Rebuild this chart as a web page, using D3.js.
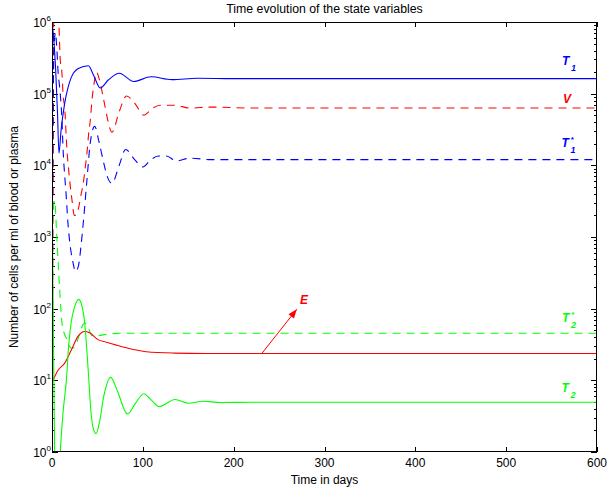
<!DOCTYPE html>
<html><head><meta charset="utf-8">
<script src="https://cdn.jsdelivr.net/npm/d3@7"></script>
<style>
body{margin:0;background:#fff;}
svg{display:block;font-family:"Liberation Sans",Arial,Helvetica,sans-serif;}
</style></head><body>
<svg id="c" width="608" height="491"></svg>
<script>
// ---- data (days, cells per ml) ----
const tT1 = [0, 2, 4, 6, 7.7, 10, 14, 18, 21, 29, 40, 46, 53, 62, 74, 90, 109, 132, 160, 200, 300, 600];
const vT1 = [1e6, 5.6e5, 2.2e5, 5.6e4, 1.48e4, 3.1e4, 7.4e4, 1.26e5, 1.66e5, 2.24e5, 2.45e5, 1.78e5, 1.2e5, 1.55e5, 1.93e5, 1.48e5, 1.72e5, 1.57e5, 1.64e5, 1.62e5, 1.62e5, 1.62e5];

const tV = [0, 0.8, 1.6, 2.5, 6, 7.5, 9.1, 11, 12.1, 14, 16.5, 18.4, 20.2, 22, 24.5, 27.5, 29.4, 32.3, 34, 36.7, 38.5, 40.4, 42.2, 44, 46, 49, 52, 57, 61, 66, 74, 82, 91, 101, 111, 119, 135, 152, 175, 220, 600];
const vV = [0.3, 320, 3.2e5, 4e6, 2e6, 1e6, 2.95e5, 1.9e5, 1e5, 6.3e4, 1.6e4, 8.5e3, 5e3, 3.3e3, 2e3, 2.1e3, 2.6e3, 4.1e3, 5.2e3, 9.5e3, 1.5e4, 2.8e4, 4.3e4, 8.1e4, 1.3e5, 2e5, 1.6e5, 8.1e4, 4.5e4, 2.9e4, 5.6e4, 9.3e4, 7.4e4, 5e4, 6.3e4, 6.9e4, 6.9e4, 6.3e4, 6.5e4, 6.3e4, 6.3e4];

const tT1s = [0, 1, 2.2, 3.8, 5.2, 6.6, 8.5, 10.5, 12.5, 14, 15.5, 17.5, 20, 23, 25.7, 29, 32, 35, 38.5, 42, 47, 51.5, 57, 61, 66, 74, 81, 91, 100, 108, 117, 126, 137, 152, 175, 220, 600];
const vT1s = [0.3, 2e4, 4e5, 7.1e5, 4.5e5, 2.1e5, 1.2e5, 5.6e4, 1.4e4, 7.1e3, 4e3, 1.6e3, 760, 450, 330, 390, 760, 1.9e3, 6.3e3, 2e4, 3.5e4, 2.2e4, 1.07e4, 6.9e3, 5.6e3, 1e4, 1.66e4, 1.2e4, 9.5e3, 1.17e4, 1.35e4, 1.35e4, 1.15e4, 1.26e4, 1.2e4, 1.2e4, 1.2e4];

const tT2 = [0, 1, 2, 3, 5, 7, 9.1, 12.1, 15.8, 18.3, 21, 25, 29.4, 32.3, 36, 39.6, 43, 46, 48.5, 52, 57, 64.6, 72, 83, 92, 101, 110, 118, 135.5, 150, 166, 185, 220, 600];
const vT2 = [3.3e3, 250, 12.6, 0.8, 0.2, 0.32, 1.0, 3.5, 10, 29.5, 63, 107, 135, 117, 63, 15.5, 3.5, 2.0, 1.8, 2.5, 6.0, 11, 7.1, 3.4, 4.8, 6.5, 5.2, 4.3, 5.4, 4.8, 5.1, 4.9, 4.95, 4.95];

const tT2s = [0, 1, 3, 5, 6.6, 8.5, 11, 13.5, 15.7, 19, 22, 26, 30.5, 33, 36, 40, 44, 50, 60, 75, 100, 600];
const vT2s = [0.3, 2e3, 3.2e3, 1.2e3, 480, 180, 63, 45, 39, 30, 28, 31, 45, 56, 63, 54, 42, 42, 44, 45.3, 45.3, 45.3];

const tE = [0, 1, 6.6, 14, 21, 28.6, 36, 41.5, 50.6, 60, 71, 89.5, 104, 134, 170, 250, 600];
const vE = [9.5, 10, 13.8, 17.4, 26, 41, 48, 46, 37, 34, 31, 27, 25, 24, 23.7, 23.7, 23.7];

const xTicks = [0, 100, 200, 300, 400, 500, 600];
const yExps = [0, 1, 2, 3, 4, 5, 6];
const arrowFrom = [231, 23.7];
const arrowTo = [269.5, 98];

// ---- layout ----
const svg = d3.select("#c");
const x = d3.scaleLinear().domain([0, 600]).range([52, 597]);
const y = d3.scaleLog().domain([1, 1e6]).range([452, 22]);
const [x0, x1] = x.range();
const [yb, yt] = y.range();
const GREEN = "#00ff00", RED = "#ff0000", BLUE = "#0000ff";

svg.append("defs").append("clipPath").attr("id", "clip")
  .append("rect").attr("x", x0).attr("y", yt).attr("width", x1 - x0).attr("height", yb - yt);

// ticks (inward, all four sides)
const tk = svg.append("g").attr("stroke", "#000").attr("stroke-width", 1).attr("shape-rendering", "crispEdges");
xTicks.forEach(v => {
  const px = Math.round(x(v)) + 0.5;
  tk.append("line").attr("x1", px).attr("x2", px).attr("y1", yb).attr("y2", yb - 5);
  tk.append("line").attr("x1", px).attr("x2", px).attr("y1", yt).attr("y2", yt + 5);
});
yExps.forEach(e => {
  const py = Math.round(y(Math.pow(10, e))) + 0.5;
  tk.append("line").attr("x1", x0).attr("x2", x0 + 6).attr("y1", py).attr("y2", py);
  tk.append("line").attr("x1", x1).attr("x2", x1 - 6).attr("y1", py).attr("y2", py);
  if (e < 6) {
    for (let k = 2; k <= 9; k++) {
      const my = Math.round(y(k * Math.pow(10, e))) + 0.5;
      tk.append("line").attr("x1", x0).attr("x2", x0 + 3).attr("y1", my).attr("y2", my);
      tk.append("line").attr("x1", x1).attr("x2", x1 - 3).attr("y1", my).attr("y2", my);
    }
  }
});

// series
const line = d3.line().x(d => x(d[0])).y(d => y(d[1])).curve(d3.curveMonotoneX);
const series = [
  {t: tV, v: vV, c: RED, dash: true},
  {t: tT1s, v: vT1s, c: BLUE, dash: true},
  {t: tT2s, v: vT2s, c: GREEN, dash: true},
  {t: tE, v: vE, c: RED, dash: false},
  {t: tT2, v: vT2, c: GREEN, dash: false},
  {t: tT1, v: vT1, c: BLUE, dash: false}
];
const gl = svg.append("g").attr("clip-path", "url(#clip)");
series.forEach(s => {
  gl.append("path")
    .datum(s.t.map((t, i) => [t, s.v[i]]))
    .attr("d", line)
    .attr("fill", "none")
    .attr("stroke", s.c)
    .attr("stroke-width", 1.1)
    .attr("stroke-dasharray", s.dash ? "8,6" : null);
});

// frame
svg.append("rect").attr("x", x0 + 0.5).attr("y", yt + 0.5).attr("width", x1 - x0 - 1).attr("height", yb - yt - 1)
  .attr("fill", "none").attr("stroke", "#000").attr("stroke-width", 1).attr("shape-rendering", "crispEdges");

// tick labels
const lab = svg.append("g").attr("fill", "#000");
xTicks.forEach(v => {
  lab.append("text").attr("x", x(v)).attr("y", yb + 15).attr("text-anchor", "middle")
    .attr("font-size", 12).text(v);
});
yExps.forEach(e => {
  const t = lab.append("text").attr("x", x0 - 1).attr("y", y(Math.pow(10, e)) + 5)
    .attr("text-anchor", "end").attr("font-size", 12);
  t.append("tspan").text("10");
  t.append("tspan").attr("font-size", 8).attr("dy", -6).text(e);
});

// titles
svg.append("text").attr("x", (x0 + x1) / 2).attr("y", 13).attr("text-anchor", "middle")
  .attr("font-size", 12.3).text("Time evolution of the state variables");
svg.append("text").attr("x", (x0 + x1) / 2).attr("y", 484).attr("text-anchor", "middle")
  .attr("font-size", 12).text("Time in days");
svg.append("text").attr("transform", `translate(18,${(yt + yb) / 2}) rotate(-90)`).attr("text-anchor", "middle")
  .attr("font-size", 12).text("Number of cells per ml of blood or plasma");

// curve labels
function curveLabel(t, val, color, sub, star) {
  const px = x(t), py = y(val);
  const g = svg.append("g").attr("fill", color).attr("font-weight", "bold").attr("font-style", "italic");
  g.append("text").attr("x", px).attr("y", py).attr("font-size", 12).text(sub === null && !star ? "V" : "T");
  if (sub !== null) g.append("text").attr("x", px + 9).attr("y", py + 6).attr("font-size", 9).text(sub);
  if (star) g.append("text").attr("x", px + 9).attr("y", py - 5).attr("font-size", 8).text("*");
}
curveLabel(561.5, 1e6 * Math.pow(10, -(65 - 22) / 71.667), BLUE, "1", false);
curveLabel(562.5, 1e6 * Math.pow(10, -(103 - 22) / 71.667), RED, null, false);
curveLabel(561, 1e6 * Math.pow(10, -(147 - 22) / 71.667), BLUE, "1", true);
curveLabel(561.5, 1e6 * Math.pow(10, -(322 - 22) / 71.667), GREEN, "2", true);
curveLabel(561, 1e6 * Math.pow(10, -(392 - 22) / 71.667), GREEN, "2", false);

// E arrow annotation
const ax1 = x(arrowFrom[0]), ay1 = y(arrowFrom[1]), ax2 = x(arrowTo[0]), ay2 = y(arrowTo[1]);
svg.append("line").attr("x1", ax1).attr("y1", ay1).attr("x2", ax2).attr("y2", ay2)
  .attr("stroke", RED).attr("stroke-width", 1);
const ang = Math.atan2(ay2 - ay1, ax2 - ax1);
const hl = 9, hw = 3.5;
const bx = ax2 - hl * Math.cos(ang), by = ay2 - hl * Math.sin(ang);
svg.append("path")
  .attr("d", `M${ax2},${ay2}L${bx + hw * Math.sin(ang)},${by - hw * Math.cos(ang)}L${bx - hw * Math.sin(ang)},${by + hw * Math.cos(ang)}Z`)
  .attr("fill", RED);
svg.append("text").attr("x", x(273)).attr("y", y(116)).attr("fill", RED)
  .attr("font-weight", "bold").attr("font-style", "italic").attr("font-size", 12).text("E");
</script>
</body></html>
